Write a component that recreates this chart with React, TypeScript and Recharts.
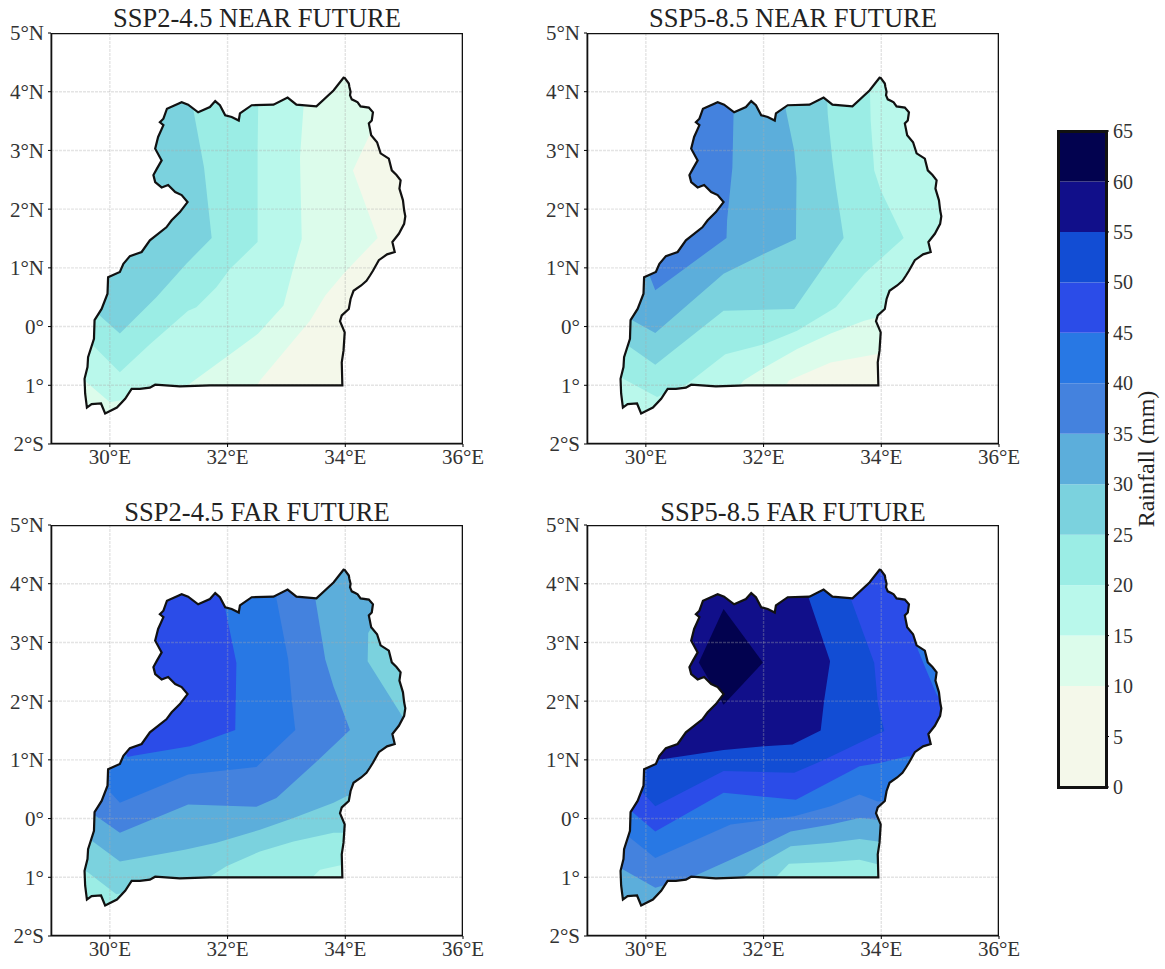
import React from 'react';
import { ScatterChart, Scatter, BarChart, Bar, XAxis, YAxis } from 'recharts';

type Ring = number[][];

// colour bar
const levelEdges = [0, 10, 15, 20, 25, 30, 35, 40, 45, 50, 55, 60, 65];
const levelColors = ['#F4F8EA', '#DCFCEB', '#B9F8EB', '#9BEDE5', '#7BD2DE', '#5CAEDB', '#4482DE', '#2878E4', '#2B4CE8', '#124DD4', '#110F8A', '#02024F'];
const colorbarTicks = [0, 5, 10, 15, 20, 25, 30, 35, 40, 45, 50, 55, 60, 65];

const lonTicks = [30, 32, 34, 36];
const latTicks = [-2, -1, 0, 1, 2, 3, 4, 5];
const lonLabels = ['30°E', '32°E', '34°E', '36°E'];
const latLabels = ['2°S', '1°', '0°', '1°N', '2°N', '3°N', '4°N', '5°N'];
const lonGrid = [30, 32, 34];
const latGrid = [-1, 0, 1, 2, 3, 4];

// border, lon/lat, clockwise from the northern peak
const border: Ring = [
  [33.98, 4.25], [34.06, 4.14], [34.07, 4.08], [34.09, 4.0], [34.08, 3.94], [34.11, 3.87], [34.17, 3.84], [34.21, 3.82], [34.26, 3.75], [34.4, 3.73], [34.47, 3.65], [34.45, 3.51],
  [34.4, 3.46], [34.44, 3.26], [34.54, 3.14], [34.6, 2.95], [34.74, 2.86], [34.79, 2.66], [34.87, 2.58], [34.94, 2.49], [34.92, 2.35], [34.98, 2.15], [35.0, 1.98], [35.02, 1.88],
  [35.0, 1.75], [34.91, 1.58], [34.8, 1.44], [34.84, 1.27], [34.71, 1.23], [34.57, 1.13], [34.47, 0.95], [34.42, 0.87], [34.36, 0.78], [34.27, 0.7], [34.14, 0.61], [34.09, 0.47],
  [34.06, 0.3], [33.94, 0.19], [33.91, 0.09], [33.99, -0.1], [33.97, -0.41], [33.94, -0.61], [33.95, -1.0], [32.78, -1.0], [31.7, -1.0], [31.19, -1.02], [30.77, -0.99], [30.68, -1.04],
  [30.51, -1.06], [30.37, -1.06], [30.26, -1.23], [30.12, -1.38], [29.92, -1.48], [29.85, -1.31], [29.69, -1.32], [29.61, -1.38], [29.58, -1.14], [29.57, -0.89], [29.62, -0.69], [29.63, -0.52],
  [29.73, -0.21], [29.74, 0.11], [29.86, 0.3], [29.96, 0.56], [29.97, 0.84], [30.17, 0.93], [30.23, 1.07], [30.34, 1.2], [30.54, 1.27], [30.68, 1.47], [30.96, 1.69], [31.05, 1.81],
  [31.19, 1.95], [31.32, 2.12], [31.22, 2.24], [31.11, 2.29], [30.99, 2.41], [30.88, 2.37], [30.77, 2.46], [30.74, 2.58], [30.8, 2.69], [30.88, 2.83], [30.77, 3.03], [30.82, 3.23],
  [30.91, 3.43], [30.85, 3.48], [30.91, 3.54], [30.97, 3.71], [31.22, 3.82], [31.33, 3.78], [31.5, 3.65], [31.7, 3.74], [31.79, 3.84], [31.87, 3.77], [31.96, 3.6], [32.07, 3.57],
  [32.19, 3.51], [32.21, 3.63], [32.41, 3.77], [32.78, 3.78], [33.02, 3.9], [33.17, 3.78], [33.51, 3.75], [33.8, 4.02],
];
const frame: Ring = [[29, 5], [36, 5], [36, -2], [29, -2], [29, 5]];
const maskFrame: Ring = [[33.98, 5], [36, 5], [36, -2], [29, -2], [29, 5], [33.98, 5]];
const baseArea: Ring = [[29, 4.3], [36, 4.3], [36, -2], [29, -2]];

// SSP2-4.5 near future, area above each level
const near245Level10: Ring = [[34.6, 4.3], [34.6, 3.45], [34.42, 3.28], [34.13, 2.66], [34.55, 1.51], [33.97, 0.9], [33.66, 0.53], [33.4, 0.1], [32.55, -0.92], [32.47, -1.06], [32.47, -1.7], [29.2, -1.7], [29.2, 4.3]];
const near245Level15: Ring = [[33.29, 4.3], [33.29, 3.74], [33.23, 2.88], [33.26, 1.49], [33.12, 1.01], [32.95, 0.36], [32.52, -0.12], [31.98, -0.52], [31.28, -1.03], [30.51, -1.2], [30.0, -1.29], [29.57, -0.92], [29.26, -0.69], [29.2, 4.3]];
const near245Level20: Ring = [[32.52, 4.3], [32.52, 3.74], [32.51, 3.0], [32.51, 1.44], [32.04, 0.98], [31.81, 0.67], [31.47, 0.33], [31.33, 0.27], [30.68, -0.3], [30.17, -0.78], [29.74, -0.35], [29.26, 0.1], [29.2, 4.3]];
const near245Level25: Ring = [[31.36, 4.3], [31.42, 3.68], [31.6, 2.71], [31.73, 1.51], [31.3, 1.07], [30.79, 0.5], [30.17, -0.12], [29.86, 0.16], [29.55, 0.44], [29.2, 4.3]];

// SSP5-8.5 near future
const near585Level10: Ring = [[32.35, -1.06], [32.43, -0.92], [33.14, -0.61], [33.91, -0.47], [34.28, -0.35], [35.5, -0.35], [35.5, 4.3], [29.2, 4.3], [29.2, -1.7], [32.35, -1.7]];
const near585Level15: Ring = [[31.55, -1.06], [31.66, -0.92], [32.01, -0.7], [32.57, -0.38], [33.14, -0.12], [33.71, 0.1], [33.94, 0.16], [34.28, 0.44], [35.5, 0.44], [35.5, 4.3], [29.2, 4.3], [29.2, -1.7], [31.55, -1.7]];
const near585Level20: Ring = [[33.8, 4.3], [33.82, 3.51], [33.88, 2.66], [33.99, 2.32], [34.38, 1.51], [33.71, 0.9], [33.23, 0.33], [32.57, -0.07], [32.01, -0.3], [31.35, -0.47], [30.7, -0.98], [30.19, -1.2], [29.56, -0.86], [29.2, -0.64], [29.2, 4.3]];
const near585Level25: Ring = [[33.06, 4.3], [33.09, 3.62], [33.17, 2.83], [33.23, 2.37], [33.36, 1.51], [32.52, 0.3], [31.32, 0.27], [30.16, -0.65], [29.73, -0.35], [29.2, 0.0], [29.2, 4.3]];
const near585Level30: Ring = [[32.38, 4.3], [32.38, 3.68], [32.52, 3.0], [32.56, 2.54], [32.55, 1.49], [32.01, 1.24], [31.32, 0.9], [30.16, -0.11], [29.73, 0.13], [29.2, 0.4], [29.2, 4.3]];
const near585Level35: Ring = [[31.5, 4.3], [31.49, 3.62], [31.47, 2.71], [31.38, 1.81], [31.37, 1.51], [30.16, 0.62], [30.05, 0.9], [29.5, 1.5], [29.2, 4.3]];

// SSP2-4.5 far future
const far245Level20: Ring = [[33.4, -1.04], [33.57, -0.87], [34.0, -0.78], [35.5, -0.6], [35.5, 4.3], [29.2, 4.3], [29.2, -1.7], [33.4, -1.7]];
const far245Level25: Ring = [[31.67, -1.01], [31.98, -0.81], [32.55, -0.56], [33.12, -0.39], [33.8, -0.24], [34.0, -0.24], [34.4, -0.1], [35.5, -0.1], [35.5, 4.3], [29.2, 4.3], [29.2, -0.7], [29.63, -0.92], [30.11, -1.29], [30.51, -1.21]];
const far245Level30: Ring = [[29.2, 4.3], [34.5, 4.3], [34.5, 3.35], [34.39, 3.16], [34.38, 2.68], [35.0, 1.69], [35.4, 1.5], [35.4, 0.7], [34.02, 0.38], [33.8, 0.27], [33.12, 0.01], [32.55, -0.19], [31.81, -0.41], [31.27, -0.53], [30.17, -0.73], [29.74, -0.41], [29.26, -0.07]];
const far245Level35: Ring = [[33.45, 4.3], [33.49, 3.75], [33.66, 2.71], [33.8, 2.25], [34.08, 1.51], [33.49, 0.95], [32.83, 0.35], [32.49, 0.2], [31.33, 0.24], [30.17, -0.24], [29.77, 0.04], [29.2, 0.38], [29.2, 4.3]];
const far245Level40: Ring = [[32.8, 4.3], [32.83, 3.75], [33.03, 2.71], [33.09, 2.03], [33.15, 1.51], [32.49, 0.88], [31.33, 0.75], [30.17, 0.27], [29.97, 0.49], [29.4, 1.0], [29.2, 4.3]];
const far245Level45: Ring = [[31.94, 4.3], [31.94, 3.67], [32.15, 2.65], [32.13, 1.51], [31.36, 1.23], [30.4, 1.07], [30.3, 1.05], [30.1, 1.5], [29.2, 3.0], [29.2, 4.3]];

// SSP5-8.5 far future
const far585Level25: Ring = [[32.2, -1.01], [32.43, -0.77], [33.14, -0.74], [33.63, -0.7], [33.94, -0.78], [35.5, -0.78], [35.5, 4.3], [29.2, 4.3], [29.2, -1.7], [32.2, -1.7]];
const far585Level30: Ring = [[31.64, -1.01], [32.01, -0.73], [32.46, -0.47], [33.14, -0.41], [33.63, -0.35], [33.94, -0.39], [35.5, -0.39], [35.5, 4.3], [29.2, 4.3], [29.2, -1.7], [31.64, -1.7]];
const far585Level35: Ring = [[30.76, -1.01], [31.44, -0.7], [32.01, -0.44], [32.46, -0.22], [33.14, -0.1], [33.63, 0.01], [33.94, -0.02], [35.5, -0.02], [35.5, 4.3], [29.2, 4.3], [29.2, -0.6], [29.62, -0.87], [30.16, -1.18]];
const far585Level40: Ring = [[33.94, 0.29], [33.63, 0.41], [33.14, 0.21], [32.52, 0.04], [31.44, -0.1], [30.16, -0.67], [29.7, -0.3], [29.2, 0.0], [29.2, 4.3], [35.5, 4.3], [35.5, 0.4]];
const far585Level45: Ring = [[34.6, 4.3], [34.6, 3.0], [34.62, 2.88], [34.76, 2.54], [34.93, 2.14], [34.98, 2.05], [35.5, 1.8], [35.5, 1.0], [34.45, 1.06], [33.99, 0.95], [33.63, 0.89], [32.55, 0.32], [31.32, 0.44], [30.16, -0.22], [29.76, 0.12], [29.2, 0.5], [29.2, 4.3]];
const far585Level50: Ring = [[33.4, 4.3], [33.48, 3.75], [33.88, 2.65], [33.94, 1.97], [34.05, 1.49], [33.63, 1.29], [33.03, 1.0], [32.52, 0.78], [31.32, 0.81], [30.16, 0.21], [29.9, 0.49], [29.2, 1.0], [29.2, 4.3]];
const far585Level55: Ring = [[32.77, 4.3], [32.77, 3.75], [33.13, 2.68], [33.03, 2.02], [32.97, 1.5], [32.49, 1.26], [32.01, 1.23], [31.32, 1.17], [30.22, 1.0], [29.9, 1.4], [29.2, 4.3]];
const far585Level60: Ring = [[31.32, 3.57], [31.99, 2.66], [31.32, 1.94], [30.9, 2.66]];

const colorOf = (level: number) => levelColors[levelEdges.indexOf(level)];
const toPoints = (ring: Ring) => ring.map(([lon, lat]) => ({ lon, lat }));

const maskPoints = toPoints([...maskFrame, ...[...border, border[0]].reverse(), maskFrame[0]]);
const borderPoints = toPoints([...border, border[0]]);

const FONT = '"Liberation Serif", serif';
const NoDot = () => <g />;
const gridLine = { fill: 'none', stroke: '#aaa', strokeOpacity: 0.32, strokeWidth: 1.4, strokeDasharray: '3 1' };

interface PanelProps {
  title: string;
  left: number;
  top: number;
  titleTop: number;
  base: number;
  layers: [number, Ring][];
}

const Panel: React.FC<PanelProps> = ({ title, left, top, titleTop, base, layers }) => (
  <div style={{ position: 'absolute', left, top, width: 490, height: 490 }}>
    <div style={{ position: 'absolute', left: 51, width: 412, top: titleTop, textAlign: 'center', fontFamily: FONT, fontSize: 26.5, lineHeight: '28px', color: '#222', whiteSpace: 'nowrap', zIndex: 1 }}>{title}</div>
    <ScatterChart width={490} height={490} margin={{ top: 33, right: 27, bottom: 0, left: 0 }}>
      <XAxis
        type="number" dataKey="lon" domain={[29, 36]} ticks={lonTicks} height={46} tickSize={3} tickMargin={2}
        interval={0} allowDataOverflow stroke="#000"
        tick={{ fill: '#333', fontSize: 21, fontFamily: FONT }}
        tickFormatter={(v: number) => lonLabels[lonTicks.indexOf(v)]}
      />
      <YAxis
        type="number" dataKey="lat" domain={[-2, 5]} ticks={latTicks} width={51} tickSize={3} tickMargin={4}
        interval={0} allowDataOverflow stroke="#000"
        tick={{ fill: '#333', fontSize: 21, fontFamily: FONT }}
        tickFormatter={(v: number) => latLabels[latTicks.indexOf(v)]}
      />
      <Scatter data={toPoints(baseArea)} line={{ fill: colorOf(base), stroke: 'none' }} shape={NoDot} isAnimationActive={false} />
      {layers.map(([level, ring]) => (
        <Scatter key={level} data={toPoints(ring)} line={{ fill: colorOf(level), stroke: 'none' }} shape={NoDot} isAnimationActive={false} />
      ))}
      <Scatter data={maskPoints} line={{ fill: '#fff', stroke: 'none' }} shape={NoDot} isAnimationActive={false} />
      {lonGrid.map((v) => (
        <Scatter key={`lon-${v}`} data={toPoints([[v, -2], [v, 5]])} line={gridLine} shape={NoDot} isAnimationActive={false} />
      ))}
      {latGrid.map((v) => (
        <Scatter key={`lat-${v}`} data={toPoints([[29, v], [36, v]])} line={gridLine} shape={NoDot} isAnimationActive={false} />
      ))}
      <Scatter data={borderPoints} line={{ fill: 'none', stroke: '#111', strokeWidth: 2.2 }} shape={NoDot} isAnimationActive={false} />
      <Scatter data={toPoints(frame)} line={{ fill: 'none', stroke: '#111', strokeWidth: 2.6 }} shape={NoDot} isAnimationActive={false} />
    </ScatterChart>
  </div>
);

const colorbarRow = [levelColors.reduce<Record<string, any>>((row, _c, i) => {
  row[`band${i}`] = levelEdges[i + 1] - levelEdges[i];
  row.name = 'rain';
  return row;
}, {})];

const App: React.FC = () => (
  <div style={{ position: 'absolute', left: 0, top: 0, width: 1165, height: 969, overflow: 'hidden', background: '#fff' }}>
    <Panel title="SSP2-4.5 NEAR FUTURE" left={0} top={0} titleTop={4} base={0} layers={[[10, near245Level10], [15, near245Level15], [20, near245Level20], [25, near245Level25]]} />
    <Panel title="SSP5-8.5 NEAR FUTURE" left={536} top={0} titleTop={4} base={0} layers={[[10, near585Level10], [15, near585Level15], [20, near585Level20], [25, near585Level25], [30, near585Level30], [35, near585Level35]]} />
    <Panel title="SSP2-4.5 FAR FUTURE" left={0} top={492} titleTop={5.5} base={15} layers={[[20, far245Level20], [25, far245Level25], [30, far245Level30], [35, far245Level35], [40, far245Level40], [45, far245Level45]]} />
    <Panel title="SSP5-8.5 FAR FUTURE" left={536} top={492} titleTop={5.5} base={20} layers={[[25, far585Level25], [30, far585Level30], [35, far585Level35], [40, far585Level40], [45, far585Level45], [50, far585Level50], [55, far585Level55], [60, far585Level60]]} />
    <div style={{ position: 'absolute', left: 1040, top: 120 }}>
      <BarChart width={125} height={679} data={colorbarRow} margin={{ top: 11, right: 0, bottom: 12, left: 18 }} barCategoryGap={0}>
        <XAxis dataKey="name" hide />
        <YAxis
          orientation="right" type="number" domain={[0, 65]} ticks={colorbarTicks} width={58} interval={0}
          tickSize={2} tickMargin={4} stroke="#000" tick={{ fill: '#333', fontSize: 20, fontFamily: FONT }}
          label={{ value: 'Rainfall (mm)', angle: -90, position: 'insideRight', offset: 16, dx: -4, style: { fontSize: 24, fontFamily: FONT, fill: '#222', textAnchor: 'middle' } }}
        />
        {levelColors.map((c, i) => (
          <Bar key={c} dataKey={`band${i}`} stackId="rain" fill={c} isAnimationActive={false} />
        ))}
      </BarChart>
    </div>
    <div style={{ position: 'absolute', left: 1057, top: 130, width: 51, height: 659, border: '3px solid #111', boxSizing: 'border-box' }} />
  </div>
);

export default App;
